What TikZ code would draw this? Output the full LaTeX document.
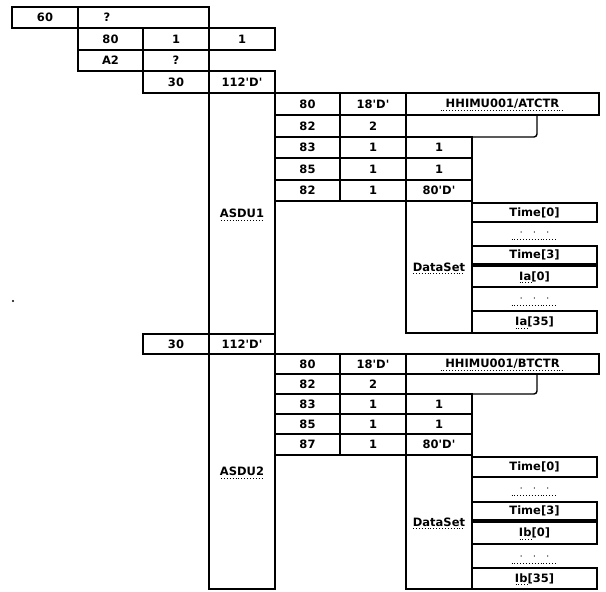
\documentclass[tikz,border=0pt]{standalone}
\usepackage{fontspec}
\setmainfont{DejaVu Sans}
\newfontfamily\cellfont{DejaVu Sans Bold}
\usetikzlibrary{calc}
\newcommand\cellat[6]{\node[cell, minimum width={(#4-#2)*1pt}, minimum height={(#5-#3)*1pt}] (#1) at (#2,#3) {#6};}
\newcommand\squigline[4]{\draw[squig] ($(#1.center)+(#2,#4)$) -- ($(#1.center)+(#3,#4)$);}
\newcommand\threedots{$\cdot$\hspace{10pt}$\cdot$\hspace{10pt}$\cdot$}
\begin{document}
\begin{tikzpicture}[x=1pt,y=-1pt,
  cell/.style={draw, line width=1.4pt, inner sep=0pt, outer sep=0pt, font=\cellfont\fontsize{11.5}{13}\selectfont, anchor=north west},
  txt/.style={inner sep=0pt, font=\cellfont\fontsize{11.5}{13}\selectfont},
  squig/.style={dotted, line width=0.9pt},
  notch/.style={line width=1.4pt}]
\useasboundingbox (0,0) rectangle (606,592);
% ---- header rows
\cellat{ra}{12}{7}{78}{28}{60}
\cellat{rb}{78}{7}{209}{28}{}
\node[txt] (qa) at (107,17.5) {?};
\cellat{rc}{78}{28}{143}{50}{80}
\cellat{rd}{143}{28}{209}{50}{1}
\cellat{re}{209}{28}{275}{50}{1}
\cellat{rf}{78}{50}{143}{71}{A2}
\cellat{rg}{143}{50}{209}{71}{?}
\cellat{rh}{143}{71}{209}{93}{30}
\cellat{ri}{209}{71}{275}{93}{112'D'}
% ---- ASDU1
\cellat{asA}{209}{93}{275}{334}{ASDU1}
\squigline{asA}{-21}{21}{6.5}
\cellat{a80}{275}{93}{340}{115}{80}
\cellat{a18}{340}{93}{406}{115}{18'D'}
\cellat{ahh}{406}{93}{599}{115}{HHIMU001/ATCTR}
\squigline{ahh}{-62}{62}{6}
\cellat{a82}{275}{115}{340}{137}{82}
\cellat{a2}{340}{115}{406}{137}{2}
\node[cell, draw=none, minimum width=131pt, minimum height=22pt] (anl) at (406,115) {};
\draw[notch] (anl.north east) [rounded corners=3pt] -- (anl.south east) -- (anl.south west);
\cellat{a83}{275}{137}{340}{158}{83}
\cellat{a83b}{340}{137}{406}{158}{1}
\cellat{a83c}{406}{137}{472}{158}{1}
\cellat{a85}{275}{158}{340}{180}{85}
\cellat{a85b}{340}{158}{406}{180}{1}
\cellat{a85c}{406}{158}{472}{180}{1}
\cellat{a82x}{275}{180}{340}{201}{82}
\cellat{a82y}{340}{180}{406}{201}{1}
\cellat{a82z}{406}{180}{472}{201}{80'D'}
\cellat{adsA}{406}{201}{472}{333}{DataSet}
\squigline{adsA}{-26}{26}{6.5}
\cellat{at0}{472}{203}{597}{222}{Time[0]}
\node[txt] (adt1) at (534.5,233) {\threedots};
\draw[squig] ($(adt1.center)+(-23,6)$) -- ($(adt1.center)+(23,6)$);
\cellat{at3}{472}{246}{597}{264}{Time[3]}
\cellat{aia0}{472}{266}{597}{287}{Ia[0]}
\squigline{aia0}{-15}{-3}{6}
\node[txt] (adt2) at (534.5,299) {\threedots};
\draw[squig] ($(adt2.center)+(-23,6)$) -- ($(adt2.center)+(23,6)$);
\cellat{aia35}{472}{311}{597}{333}{Ia[35]}
\squigline{aia35}{-19}{-7}{6}
% ---- stray dot
\fill (13,301) circle (1.1pt);
% ---- ASDU2
\cellat{sh}{143}{334}{209}{354}{30}
\cellat{si}{209}{334}{275}{354}{112'D'}
\cellat{asB}{209}{354}{275}{589}{ASDU2}
\squigline{asB}{-21}{21}{6.5}
\cellat{b80}{275}{354}{340}{374}{80}
\cellat{b18}{340}{354}{406}{374}{18'D'}
\cellat{bhh}{406}{354}{599}{374}{HHIMU001/BTCTR}
\squigline{bhh}{-62}{62}{6}
\cellat{b82}{275}{374}{340}{394}{82}
\cellat{b2}{340}{374}{406}{394}{2}
\node[cell, draw=none, minimum width=131pt, minimum height=20pt] (bnl) at (406,374) {};
\draw[notch] (bnl.north east) [rounded corners=3pt] -- (bnl.south east) -- (bnl.south west);
\cellat{b83}{275}{394}{340}{414}{83}
\cellat{b83b}{340}{394}{406}{414}{1}
\cellat{b83c}{406}{394}{472}{414}{1}
\cellat{b85}{275}{414}{340}{434}{85}
\cellat{b85b}{340}{414}{406}{434}{1}
\cellat{b85c}{406}{414}{472}{434}{1}
\cellat{b87}{275}{434}{340}{455}{87}
\cellat{b87b}{340}{434}{406}{455}{1}
\cellat{b87c}{406}{434}{472}{455}{80'D'}
\cellat{bdsB}{406}{455}{472}{589}{DataSet}
\squigline{bdsB}{-26}{26}{6.5}
\cellat{bt0}{472}{457}{597}{477}{Time[0]}
\node[txt] (bdt1) at (534.5,489) {\threedots};
\draw[squig] ($(bdt1.center)+(-23,6)$) -- ($(bdt1.center)+(23,6)$);
\cellat{bt3}{472}{502}{597}{520}{Time[3]}
\cellat{bib0}{472}{522}{597}{544}{Ib[0]}
\squigline{bib0}{-15}{-3}{6}
\node[txt] (bdt2) at (534.5,557) {\threedots};
\draw[squig] ($(bdt2.center)+(-23,6)$) -- ($(bdt2.center)+(23,6)$);
\cellat{bib35}{472}{568}{597}{589}{Ib[35]}
\squigline{bib35}{-19}{-7}{6}
\end{tikzpicture}
\end{document}
